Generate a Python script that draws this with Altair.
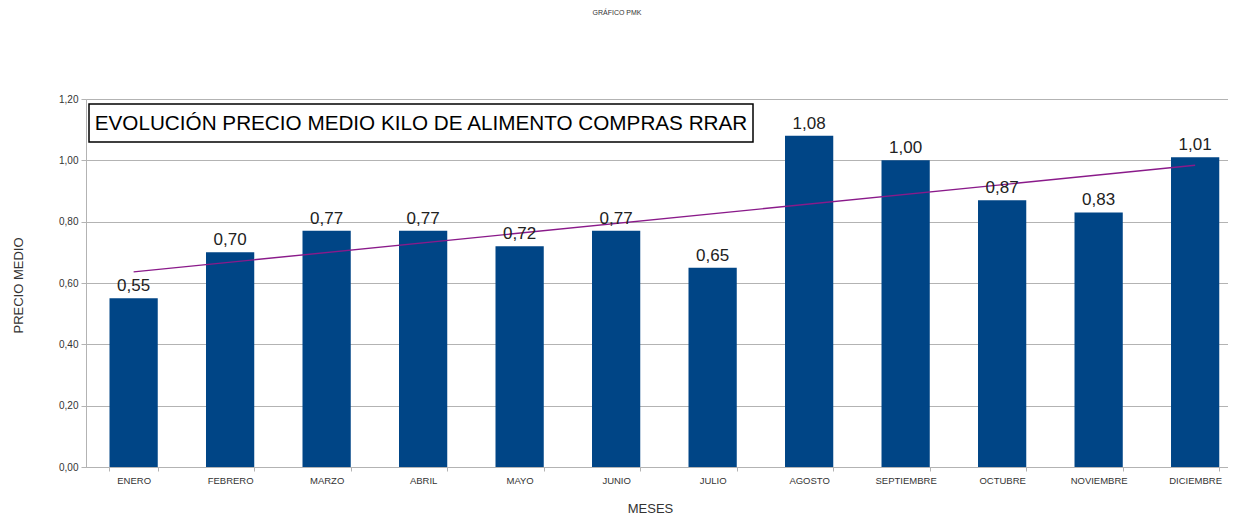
import altair as alt
import pandas as pd

meses = ["ENERO", "FEBRERO", "MARZO", "ABRIL", "MAYO", "JUNIO", "JULIO",
         "AGOSTO", "SEPTIEMBRE", "OCTUBRE", "NOVIEMBRE", "DICIEMBRE"]
precios = [0.55, 0.70, 0.77, 0.77, 0.72, 0.77, 0.65, 1.08, 1.00, 0.87, 0.83, 1.01]
orden = list(range(1, 13))
y_ticks = [0, 0.2, 0.4, 0.6, 0.8, 1.0, 1.2]
titulo_caja = "EVOLUCIÓN PRECIO MEDIO KILO DE ALIMENTO COMPRAS RRAR"
titulo = "GRÁFICO PMK"

df = pd.DataFrame({"mes": meses, "precio": precios, "idx": orden})

FONT = "Liberation Sans"
BLUE = "#004586"
PURPLE = "#8a1a8a"

x_enc = alt.X(
    "mes:N", sort=meses,
    scale=alt.Scale(paddingInner=0.5, paddingOuter=0.167, align=0.729),
    axis=alt.Axis(
        title="MESES", labelAngle=0, labelFontSize=9.5, labelColor="#333333",
        labelFont=FONT, labelPadding=4, tickBand="extent", tickSize=4,
        tickColor="#b3b3b3", domainColor="#b3b3b3", titleFont=FONT,
        titleFontSize=13, titleFontWeight="normal", titleColor="#333333",
        titleX=564, titleY=41, titleBaseline="middle", titleAnchor="start",
        titleAlign="center",
    ),
)

y_enc = alt.Y(
    "precio:Q",
    scale=alt.Scale(domain=[0, 1.2], nice=False),
    axis=alt.Axis(
        values=y_ticks, title="PRECIO MEDIO",
        labelExpr="replace(format(datum.value, '.2f'), '.', ',')",
        labelFontSize=10, labelColor="#333333", labelFont=FONT, labelPadding=3,
        tickSize=5, tickColor="#b3b3b3", domainColor="#b3b3b3",
        gridColor="#b3b3b3", grid=True, titleFont=FONT, titleFontSize=13,
        titleFontWeight="normal", titleColor="#333333", titleAngle=-90,
        titleX=-68, titleY=186, titleAlign="center", titleBaseline="middle",
    ),
)

base = alt.Chart(df)

bars = base.mark_bar(color=BLUE).encode(x=x_enc, y=y_enc)

labels = base.transform_calculate(
    etiqueta="replace(format(datum.precio, '.2f'), '.', ',')"
).mark_text(
    baseline="bottom", dy=-3, fontSize=17, font=FONT, color="#222222"
).encode(x=alt.X("mes:N", sort=meses), y="precio:Q", text="etiqueta:N")

trend = base.transform_regression(
    "idx", "precio", method="linear"
).transform_lookup(
    lookup="idx", from_=alt.LookupData(data=df, key="idx", fields=["mes"])
).mark_line(color=PURPLE, strokeWidth=1.4).encode(
    x=alt.X("mes:N", sort=meses), y="precio:Q"
)

box_df = pd.DataFrame({"t": [titulo_caja]})
box = alt.Chart(box_df).mark_rect(
    fill="white", stroke="black", strokeWidth=1.5
).encode(x=alt.value(3), x2=alt.value(667), y=alt.value(5), y2=alt.value(43))
box_text = alt.Chart(box_df).mark_text(
    fontSize=20.7, font=FONT, color="black", align="center", baseline="middle"
).encode(x=alt.value(335), y=alt.value(24.5), text="t:N")

chart = alt.layer(bars, trend, labels, box, box_text).properties(
    width=1142, height=368,
    autosize=alt.AutoSizeParams(type="none"),
    padding={"left": 78, "top": 91, "right": 0, "bottom": 47},
    title=alt.TitleParams(
        text=titulo, fontSize=7, font=FONT, fontWeight="normal",
        color="#333333", anchor="middle", frame="group", offset=78, dx=-40,
    ),
).configure_view(stroke="transparent").configure(background="white")

chart.save("out.html", embed_options={"renderer": "svg", "actions": False})
